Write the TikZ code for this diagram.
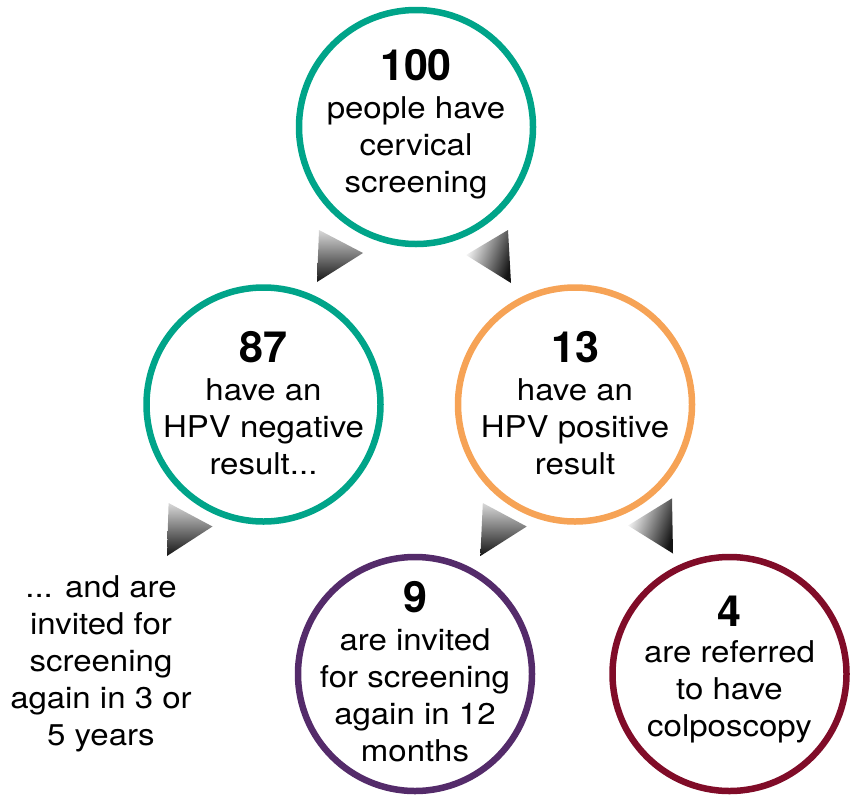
\documentclass[tikz,border=0pt]{standalone}
\usepackage{fontspec}
\setmainfont{TeX Gyre Heros}[FakeStretch=1.1]
\newfontfamily\numfont{TeX Gyre Heros}
\definecolor{cteal}{RGB}{0,164,137}
\definecolor{corange}{RGB}{246,163,86}
\definecolor{cpurple}{RGB}{84,43,106}
\definecolor{cmaroon}{RGB}{128,12,40}
\begin{document}
\begin{tikzpicture}[x=1pt,y=-1pt,
  ring/.style={circle,draw=#1,line width=6.5pt,minimum size=234pt,inner sep=0pt},
  txt/.style={font=\fontsize{30}{37}\selectfont,align=center,inner sep=0pt,anchor=base},
  num/.style={font=\numfont\bfseries\fontsize{43}{43}\selectfont,inner sep=0pt,anchor=base},
  rtri/.style={top color=black!15,bottom color=black!92},
  ltri/.style={left color=white,right color=black!92,shading angle=70}]
\useasboundingbox (0,0) rectangle (851,798);
% circles
\node[ring=cteal] (c100) at (416,127) {};
\node[ring=cteal] (c87) at (263.5,404.5) {};
\node[ring=corange] (c13) at (575,404.5) {};
\node[ring=cpurple] (c9) at (415,674) {};
\node[ring=cmaroon] (c4) at (729.5,674) {};
% texts (base anchor = baseline of the last line)
\node[num] (n100) at (416,80.7) {100};
\node[txt] (t100) at (416,192) {people have\\cervical\\screening};
\node[num] (n87) at (263.5,362) {87};
\node[txt] (t87) at (263.5,474) {have an\\HPV negative\\result...};
\node[num] (n13) at (575,362) {13};
\node[txt] (t13) at (575,474) {have an\\HPV positive\\result};
\node[num] (n9) at (415,612.3) {9};
\node[txt] (t9) at (415,761.7) {are invited\\for screening\\again in 12\\months};
\node[num] (n4) at (729.5,626) {4};
\node[txt] (t4) at (729.5,736.7) {are referred\\to have\\colposcopy};
\node[txt] (tl) at (101,745) {... and are\\invited for\\screening\\again in 3 or\\5 years};
% arrow triangles
\shade[rtri] (319,230) -- (363,253) -- (317,282) -- cycle;
\shade[ltri] (508,230) -- (466,255) -- (511,283) -- cycle;
\shade[rtri] (168.6,503) -- (212.5,526.5) -- (167,556) -- cycle;
\shade[rtri] (482.8,503) -- (526.7,526.5) -- (480.4,556) -- cycle;
\shade[ltri] (672,498.4) -- (628,525.5) -- (673,553.5) -- cycle;
\end{tikzpicture}
\end{document}
